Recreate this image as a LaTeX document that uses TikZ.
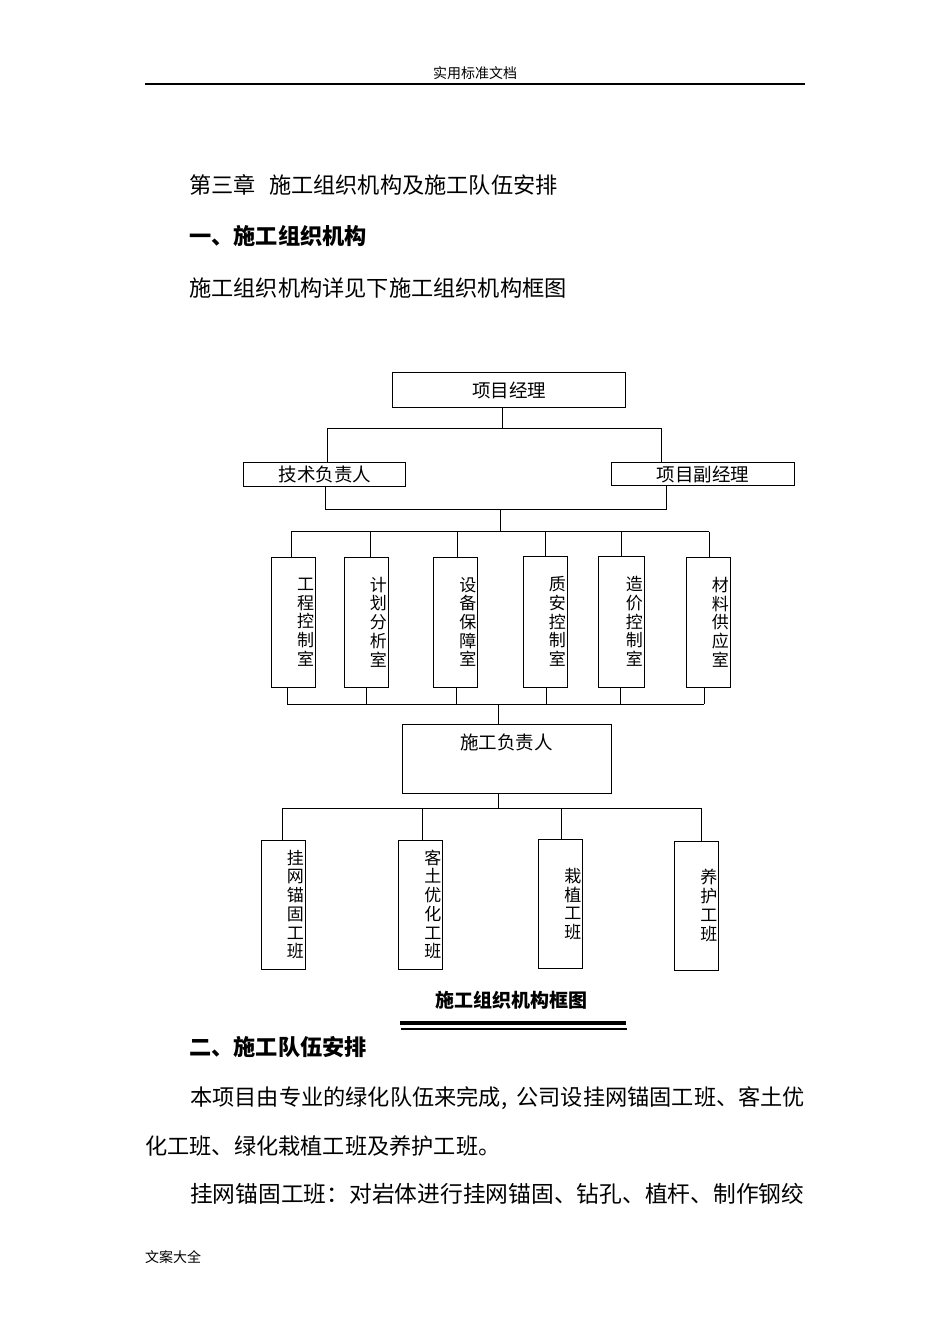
\documentclass[tikz,border=0pt]{standalone}
\usepackage{fontspec}
\setmainfont{Noto Sans CJK SC}
\newcommand{\bodyfont}{\fontsize{22.2}{24}\selectfont}

\tikzset{
  box/.style={draw, line width=1pt, inner sep=0pt, font=\fontsize{18.5}{20}\selectfont},
  vbox/.style={draw, line width=1pt, inner xsep=1.2pt, inner ysep=0pt, text width=41.6pt,
    align=right, font=\fontsize{17}{18.7}\selectfont},
  link/.style={line width=0.9pt},
  txt/.style={anchor=west, inner sep=0pt, font=\bodyfont}
}

\begin{document}
\begin{tikzpicture}[x=1pt, y=-1pt]
  \fill[white] (0,0) rectangle (950,1344);
  \useasboundingbox (0,0) rectangle (950,1344);

  % Page text
  \node[font=\fontsize{14}{14}\selectfont] (hdr) at (475,73) {实用标准文档};
  \draw[line width=1.4pt] (145,84) -- (805,84);
  \node[txt] (ch) at (189,185) {第三章\hspace{0.6em}施工组织机构及施工队伍安排};
  \node[txt, font=\bodyfont\bfseries] (h1) at (189,236) {一、施工组织机构};
  \node[txt] (p1) at (189,288) {施工组织机构详见下施工组织机构框图};

  % Nodes
  \node[box, minimum width=233pt, minimum height=35pt] (PM) at (509.2,390.2) {项目经理};
  \node[box, minimum width=161.7pt, minimum height=24.4pt] (TL) at (324.8,474.5) {技术负责人};
  \node[box, minimum width=182.6pt, minimum height=22.6pt] (DPM) at (703,474) {项目副经理};

  \node[vbox, minimum height=130pt] (R1) at (293.3,622) {工\\程\\控\\制\\室};
  \node[vbox, minimum height=130pt] (R2) at (366,622) {计\\划\\分\\析\\室};
  \node[vbox, minimum height=130pt] (R3) at (455.5,622) {设\\备\\保\\障\\室};
  \node[vbox, minimum height=131pt] (R4) at (545,621.5) {质\\安\\控\\制\\室};
  \node[vbox, minimum height=131pt, text width=43.6pt] (R5) at (621,621.5) {造\\价\\控\\制\\室};
  \node[vbox, minimum height=130pt] (R6) at (708,622) {材\\料\\供\\应\\室};

  \node[box, anchor=north, minimum width=209pt, text height=25pt, text depth=44pt] (SG) at (506.5,724) {施工负责人};

  \node[vbox, minimum height=129pt] (T1) at (283,904.5) {挂\\网\\锚\\固\\工\\班};
  \node[vbox, minimum height=129pt] (T2) at (420.5,904.5) {客\\土\\优\\化\\工\\班};
  \node[vbox, minimum height=129pt] (T3) at (560.5,904) {栽\\植\\工\\班};
  \node[vbox, minimum height=129pt] (T4) at (696.5,905.5) {养\\护\\工\\班};

  % Edges
  \coordinate (B1) at (502.7,428.5);
  \coordinate (b1l) at (327.7,428.5);
  \coordinate (b1r) at (661.3,428.5);
  \draw[link] (B1 |- PM.south) -- (B1);
  \draw[link] (TL.north -| b1l) -- (b1l) -- (b1r) -- (DPM.north -| b1r);

  \coordinate (B2) at (500,509.5);
  \coordinate (b2l) at (325.7,509.5);
  \coordinate (b2r) at (666,509.5);
  \draw[link] (TL.south -| b2l) -- (b2l) -- (b2r) -- (DPM.south -| b2r);

  \foreach \i/\x in {1/291,2/370,3/457,4/545,5/621,6/709} {
    \coordinate (u\i) at (\x,531.7);
    \draw[link] (u\i) -- (R\i.north -| u\i);
  }
  \draw[link] (u1) -- (u6);
  \draw[link] (B2) -- (B2 |- u1);

  \foreach \i/\x in {1/287,2/366,3/456,4/546,5/620,6/704} {
    \coordinate (d\i) at (\x,704);
    \draw[link] (R\i.south -| d\i) -- (d\i);
  }
  \draw[link] (d1) -- (d6);
  \coordinate (B4) at (498.7,704);
  \draw[link] (B4) -- (B4 |- SG.north);

  \coordinate (B5) at (498,808);
  \draw[link] (B5 |- SG.south) -- (B5);
  \foreach \i/\x in {1/282,2/422,3/561,4/701} {
    \coordinate (w\i) at (\x,808);
    \draw[link] (w\i) -- (T\i.north -| w\i);
  }
  \draw[link] (w1) -- (w4);

  % Caption
  \node[font=\fontsize{19}{19}\selectfont\bfseries] (cap) at (511,1000) {施工组织机构框图};
  \draw[line width=4.5pt] (400,1023) -- (626,1023);
  \draw[line width=1.2pt] (401,1029) -- (627,1029);

  \node[txt, font=\bodyfont\bfseries] (h2) at (189,1047) {二、施工队伍安排};
  \node[txt] (p2) at (190,1098) {\makebox[615pt][s]{本项目由专业的绿化队伍来完成,\hfill 公司设挂网锚固工班、客土优}};
  \node[txt] (p3) at (145,1146) {化工班、绿化栽植工班及养护工班。};
  \node[txt, font=\fontsize{22.75}{24}\selectfont] (p4) at (190,1194) {挂网锚固工班：对岩体进行挂网锚固、钻孔、植杆、制作钢绞};
  \node[txt, font=\fontsize{14}{14}\selectfont] (ftr) at (145,1257) {文案大全};
\end{tikzpicture}
\end{document}
